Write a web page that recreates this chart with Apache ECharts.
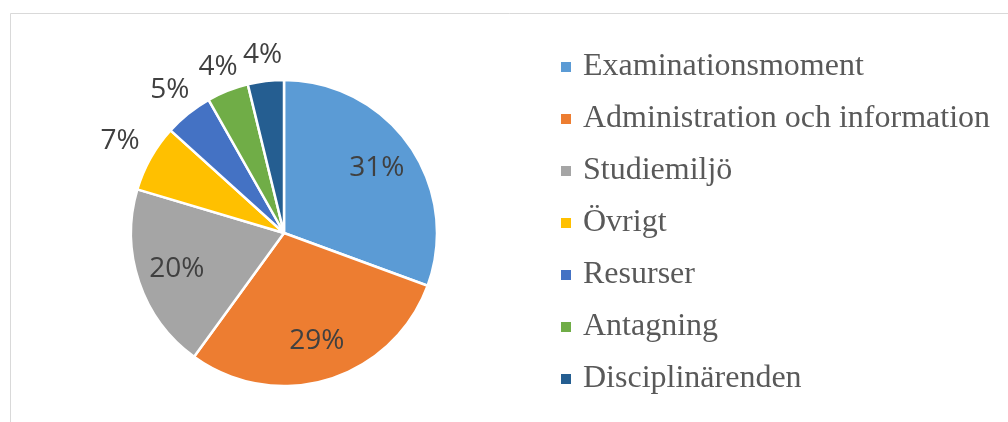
<!DOCTYPE html>
<html>
<head>
<meta charset="utf-8">
<style>
  html, body { margin: 0; padding: 0; background: #ffffff; }
  #chart { width: 1008px; height: 422px; }
</style>
<script src="https://cdn.jsdelivr.net/npm/echarts@6/dist/echarts.min.js"></script>
</head>
<body>
<div id="chart"></div>
<script>
// Data
var categories = ['Examinationsmoment', 'Administration och information', 'Studiemiljö', 'Övrigt', 'Resurser', 'Antagning', 'Disciplinärenden'];
var values = [30.6, 29.4, 19.6, 7.1, 5.1, 4.4, 3.8];
var colors = ['#5B9BD5', '#ED7D31', '#A5A5A5', '#FFC000', '#4472C4', '#70AD47', '#255E91'];

var R = 153;
var CENTER = [284, 233];

var chart = echarts.init(document.getElementById('chart'));

function mkData(withColor) {
  return categories.map(function (c, i) {
    var d = { name: c, value: values[i] };
    if (withColor) d.itemStyle = { color: colors[i] };
    return d;
  });
}

// invisible pie used only to place labels at a chosen radial distance
function labelSeries(radius, showIdx) {
  var data = mkData(false).map(function (d, i) {
    d.label = { show: showIdx.indexOf(i) >= 0 };
    return d;
  });
  return {
    type: 'pie',
    center: CENTER,
    radius: [0, radius],
    silent: true,
    startAngle: 90,
    clockwise: true,
    itemStyle: { color: 'rgba(0,0,0,0)', borderWidth: 0 },
    label: {
      position: 'inside',
      formatter: function (p) { return Math.round(p.percent) + '%'; },
      fontFamily: 'Open Sans',
      fontSize: 28,
      color: '#404040'
    },
    labelLine: { show: false },
    emphasis: { disabled: true },
    data: data,
    z: 3
  };
}

var option = {
  backgroundColor: '#ffffff',
  animation: false,
  graphic: [{
    type: 'rect',
    shape: { x: 10.5, y: 13.5, width: 1200, height: 600 },
    style: { fill: 'none', stroke: '#d9d9d9', lineWidth: 1 },
    silent: true,
    z: -1
  }],
  legend: {
    orient: 'vertical',
    left: 559,
    top: 51,
    padding: 0,
    icon: 'rect',
    itemWidth: 12,
    itemHeight: 12,
    itemGap: 20,
    data: categories,
    textStyle: {
      fontFamily: 'Liberation Serif',
      fontSize: 32,
      color: '#595959',
      padding: [0, 0, 0, 6]
    }
  },
  series: [
    {
      type: 'pie',
      center: CENTER,
      radius: [0, R],
      startAngle: 90,
      clockwise: true,
      itemStyle: { borderColor: '#ffffff', borderWidth: 2.5 },
      label: { show: false },
      labelLine: { show: false },
      data: mkData(true),
      z: 2
    },
    labelSeries(R * 1.44, [0, 1, 2]),
    labelSeries(R * 2.42, [3]),
    labelSeries(R * 2.35, [4]),
    labelSeries(R * 2.30, [5, 6])
  ]
};

chart.setOption(option);
</script>
</body>
</html>
